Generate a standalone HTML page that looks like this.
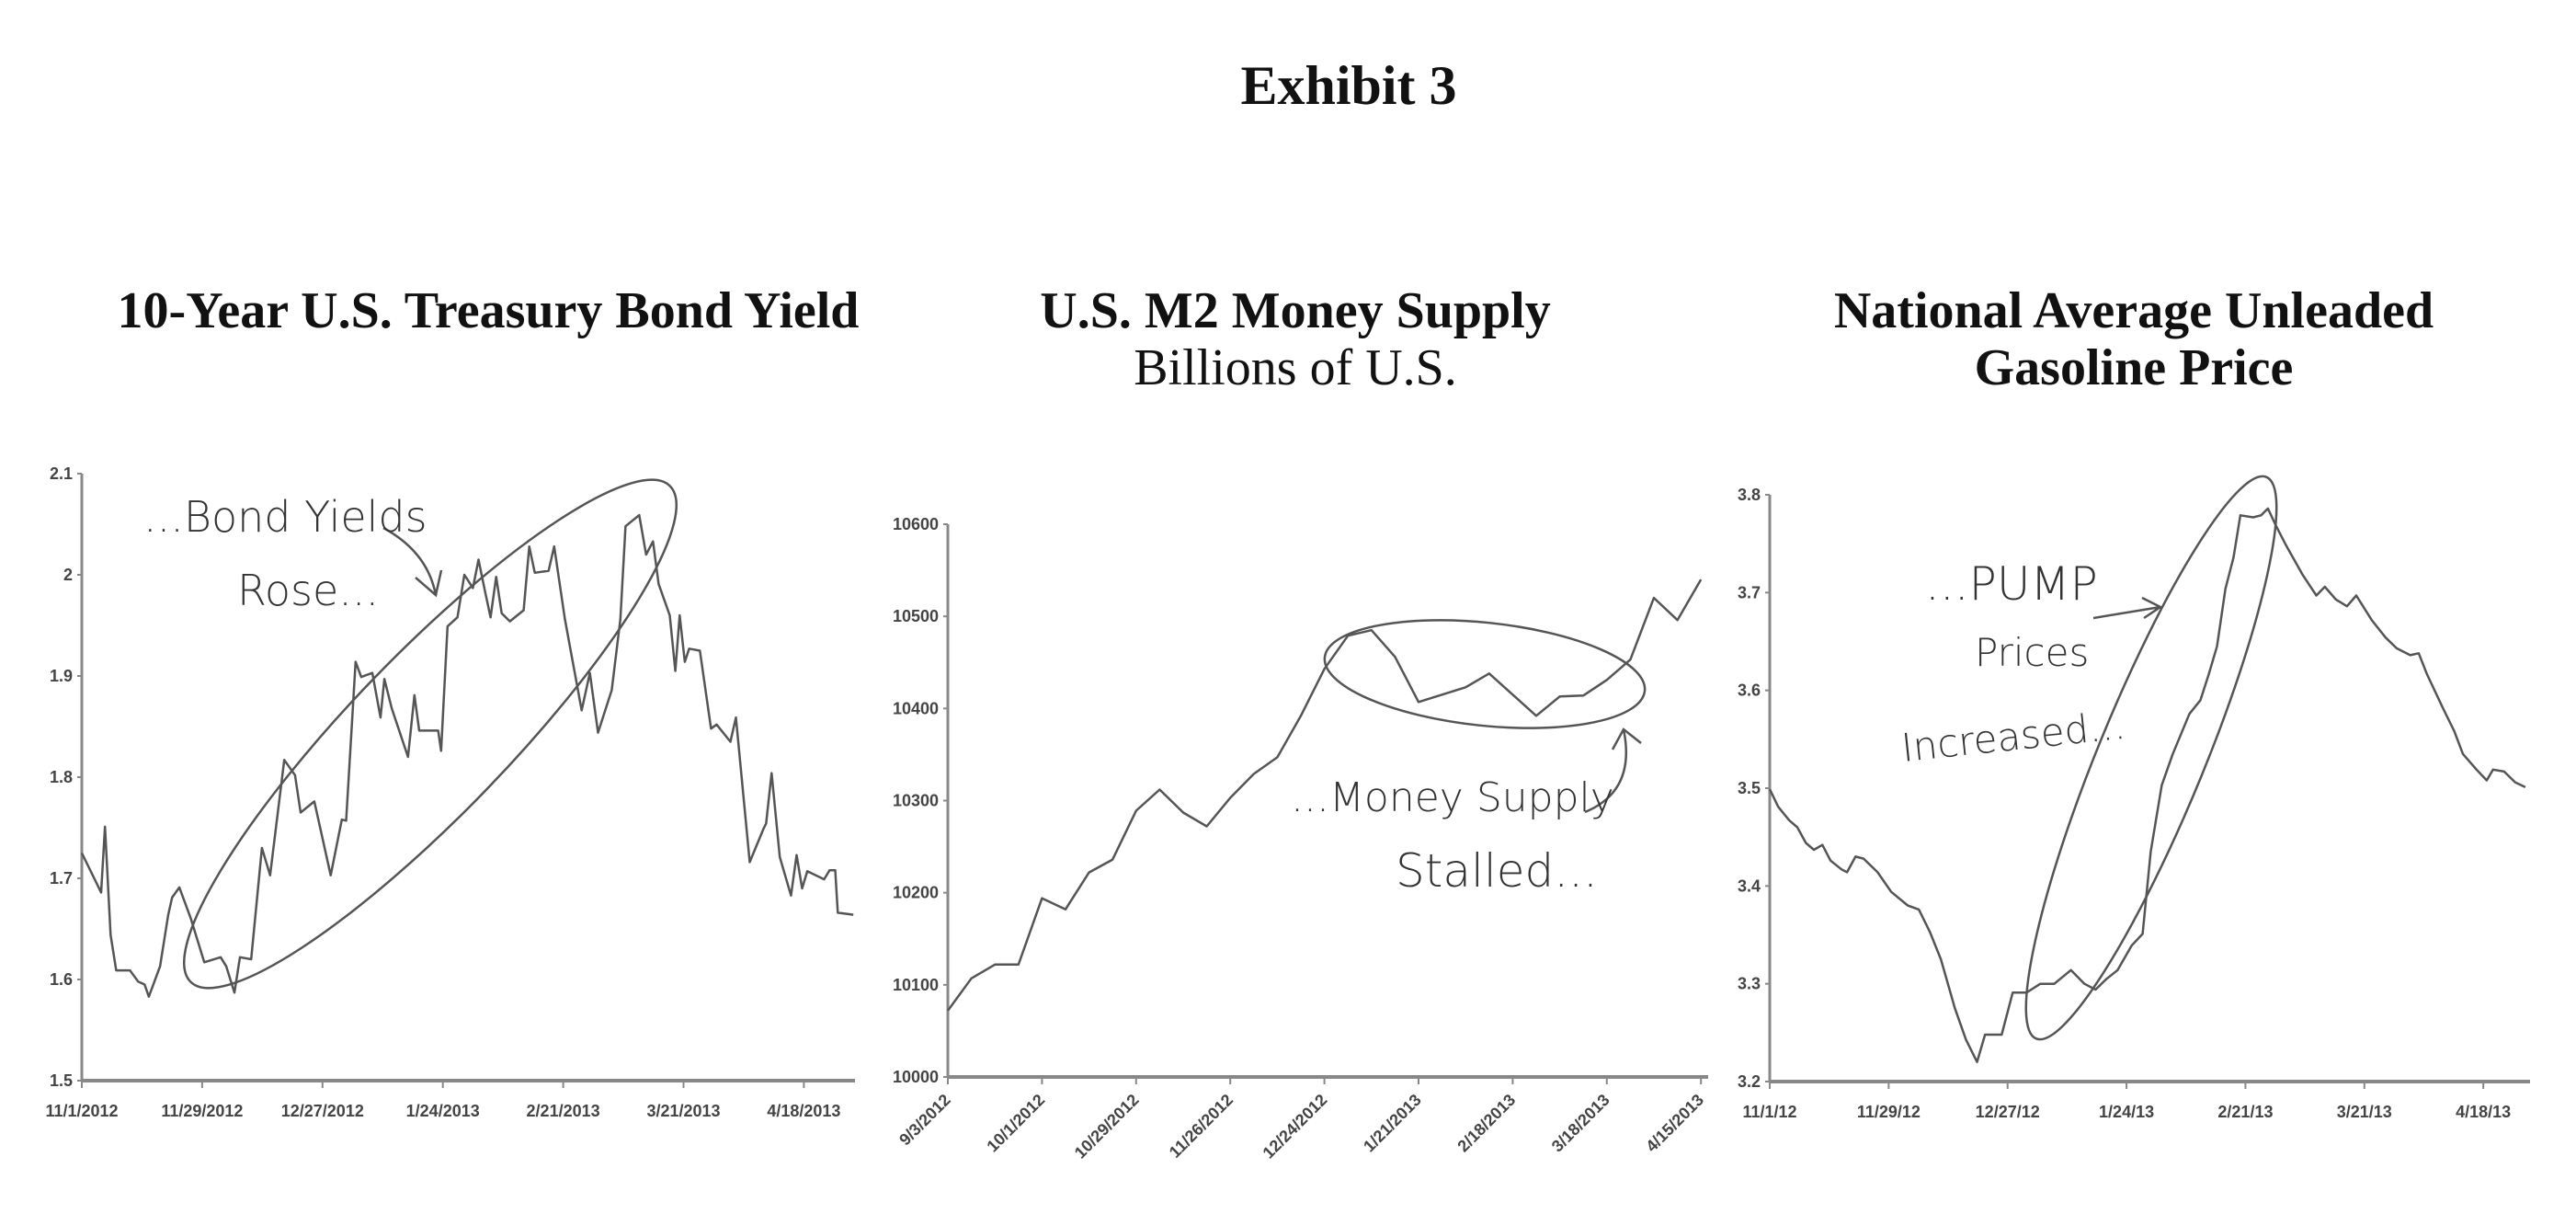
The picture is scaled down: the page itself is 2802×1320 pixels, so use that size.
<!DOCTYPE html>
<html><head><meta charset="utf-8">
<style>
html,body{margin:0;padding:0;background:#fff;}
svg{display:block;}
.ttl{font-family:"Liberation Serif",serif;fill:#111;}
.tick{font-family:"Liberation Sans",sans-serif;font-weight:bold;font-size:18px;fill:#444;}
.hand{font-family:"DejaVu Sans","Liberation Sans",sans-serif;font-weight:200;fill:#333;}
</style></head>
<body>
<svg id="root" width="2802" height="1320" viewBox="0 0 2802 1320" xmlns="http://www.w3.org/2000/svg">
<text class="ttl" x="1467" y="113" font-size="60" font-weight="bold" text-anchor="middle">Exhibit 3</text>
<text class="ttl" x="531" y="356" font-size="56" font-weight="bold" text-anchor="middle">10-Year U.S. Treasury Bond Yield</text>
<text class="ttl" x="1409" y="356" font-size="56" font-weight="bold" text-anchor="middle">U.S. M2 Money Supply</text>
<text class="ttl" x="1409" y="418" font-size="56" text-anchor="middle">Billions of U.S.</text>
<text class="ttl" x="2321" y="356" font-size="56" font-weight="bold" text-anchor="middle">National Average Unleaded</text>
<text class="ttl" x="2321" y="418" font-size="56" font-weight="bold" text-anchor="middle">Gasoline Price</text>

<g fill="none" stroke="#555" stroke-width="2.5">
<ellipse cx="468" cy="798" rx="375" ry="86" transform="rotate(-46 468 798)"/>
<path d="M417 574 Q465 600 474 647 M452 628 L474 647 L480 620"/>
</g>
<text class="hand" x="156" y="578" font-size="46">...Bond Yields</text>
<text class="hand" x="258" y="658" font-size="46">Rose...</text>

<g fill="none" stroke="#555" stroke-width="2.5">
<ellipse cx="1615" cy="733" rx="175" ry="56" transform="rotate(6 1615 733)"/>
<path d="M1724 883 Q1780 860 1766 793 M1754 815 L1766 793 L1785 808"/>
</g>
<text class="hand" x="1404" y="882" font-size="44">...Money Supply</text>
<text class="hand" x="1518" y="964" font-size="50">Stalled...</text>

<g fill="none" stroke="#555" stroke-width="2.5">
<ellipse cx="2340" cy="824" rx="330" ry="58" transform="rotate(-67.7 2340 824)"/>
<path d="M2277 672 L2350 660 M2330 650 L2350 660 L2332 672"/>
</g>
<text class="hand" x="2094" y="652" font-size="50">...PUMP</text>
<text class="hand" x="2148" y="724" font-size="42">Prices</text>
<text class="hand" x="2070" y="828" font-size="42" transform="rotate(-6 2070 828)">Increased...</text>
</svg>
<script>
const bondDays = [0,4.5,5.4,6.7,8,11.2,13.1,14.6,15.6,18.2,20.1,21,22.7,25.3,28.5,32.3,33.6,35.5,36.8,39.4,41.9,43.8,47.1,49.6,50.9,54.1,57.9,60.5,61.5,63.7,65,67.6,69.5,70.4,72.1,75.9,77.4,78.5,82.9,83.6,85.1,87.4,89,91,92.3,93.8,95.1,96.4,97.7,99.6,102.8,104.1,105.4,108.6,109.9,112.4,116.3,118.2,120.1,123.3,125.3,126.5,129.7,131.3,132.9,134.2,136.8,138.1,139.1,140.3,141.3,143.8,146.4,147.7,150.9,152.2,155.4,158.6,159.2,160.5,162.4,165,166.3,167.6,168.8,172.7,174,175.3,175.9,179.5];
const bondYield = [1.725,1.686,1.751,1.644,1.609,1.609,1.598,1.595,1.583,1.613,1.664,1.681,1.691,1.661,1.617,1.622,1.613,1.587,1.622,1.620,1.730,1.703,1.817,1.802,1.765,1.776,1.703,1.758,1.757,1.914,1.899,1.903,1.859,1.897,1.868,1.820,1.881,1.846,1.846,1.826,1.949,1.958,2.000,1.987,2.015,1.984,1.958,1.998,1.962,1.954,1.965,2.028,2.002,2.004,2.028,1.956,1.866,1.903,1.844,1.886,1.956,2.048,2.059,2.020,2.033,1.991,1.960,1.905,1.960,1.914,1.927,1.925,1.848,1.852,1.835,1.859,1.716,1.749,1.754,1.804,1.721,1.683,1.723,1.690,1.707,1.699,1.708,1.708,1.666,1.664];
const bondTickLabels = ["11/1/2012","11/29/2012","12/27/2012","1/24/2013","2/21/2013","3/21/2013","4/18/2013"];
const bondYTicks = [1.5,1.6,1.7,1.8,1.9,2,2.1];

const m2Weeks = [0,1,2,3,4,5,6,7,8,9,10,11,12,13,14,15,16,17,18,19,20,21,22,23,24,25,26,27,28,29,30,31,32];
const m2Values = [10072,10107,10122,10122,10194,10182,10222,10236,10289,10312,10287,10272,10303,10329,10347,10392,10443,10479,10485,10456,10407,10415,10423,10438,10415,10392,10413,10414,10431,10453,10520,10496,10540];
const m2TickLabels = ["9/3/2012","10/1/2012","10/29/2012","11/26/2012","12/24/2012","1/21/2013","2/18/2013","3/18/2013","4/15/2013"];
const m2YTicks = [10000,10100,10200,10300,10400,10500,10600];

const gasDays = [0,2,4.6,6.5,8.5,10.4,12.4,14.3,16.9,18.2,20.2,22.1,25.4,28.6,32.5,35.1,37.7,40.3,43.6,46.2,48.8,50.7,52,54.6,57.2,60.5,63.7,67,70.9,74.1,76.7,79.3,81.9,85.2,87.8,89.7,92.3,94.9,98.8,101.4,103.4,105.3,107.3,109.2,110.8,113.8,115.7,117.3,119,121.6,125.5,128.7,130.7,133.3,135.9,138.1,141.7,145,147.6,150.8,152.8,154.7,158.6,161.2,163.2,166.4,168.8,170.3,172.9,175.5,177.9];
const gasPrice = [3.499,3.481,3.467,3.460,3.444,3.437,3.442,3.426,3.417,3.414,3.430,3.428,3.414,3.394,3.380,3.376,3.353,3.325,3.275,3.243,3.220,3.248,3.248,3.248,3.291,3.291,3.300,3.300,3.314,3.300,3.294,3.305,3.314,3.339,3.351,3.435,3.503,3.535,3.576,3.590,3.617,3.645,3.704,3.736,3.779,3.777,3.779,3.786,3.770,3.748,3.718,3.697,3.706,3.693,3.686,3.697,3.672,3.654,3.643,3.636,3.638,3.617,3.581,3.558,3.535,3.519,3.508,3.519,3.517,3.506,3.501];
const gasTickLabels = ["11/1/12","11/29/12","12/27/12","1/24/13","2/21/13","3/21/13","4/18/13"];
const gasYTicks = [3.2,3.3,3.4,3.5,3.6,3.7,3.8];

const NS = "http://www.w3.org/2000/svg";
const root = document.getElementById('root');
function mk(tag, attrs, parent){ const e=document.createElementNS(NS,tag); for(const k in attrs) e.setAttribute(k,attrs[k]); (parent||root).appendChild(e); return e; }

function drawChart(c){
  const g = mk('g',{});
  
  
  const sx = v => c.x0 + (v - c.xmin) * c.pxPerUnit;
  const sy = v => c.yBottom - (v - c.ymin) / (c.ymax - c.ymin) * (c.yBottom - c.yTop);
  const ya = mk('line',{x1:c.x0,y1:c.yTop,x2:c.x0,y2:c.yBottom,stroke:'#888','stroke-width':3},g);
  
  
  const xa = mk('line',{x1:c.x0,y1:c.yBottom,x2:c.xEnd,y2:c.yBottom,stroke:'#888','stroke-width':4},g);
  
  
  c.yTicks.forEach(t=>{
    const y = sy(t);
    mk('line',{x1:c.x0-5,y1:y,x2:c.x0,y2:y,stroke:'#888','stroke-width':2},g);
    const tx = mk('text',{x:c.x0-10,y:y+6,'text-anchor':'end','class':'tick'},g);
    tx.textContent = String(t);
    
    
  });
  c.xLabels.forEach((lab,i)=>{
    const x = sx(c.xmin + i*c.xStep);
    mk('line',{x1:x,y1:c.yBottom,x2:x,y2:c.yBottom+8,stroke:'#888','stroke-width':2},g);
    let tx;
    if(c.rotate){
      tx = mk('text',{x:x+4,y:c.yBottom+26,'text-anchor':'end','class':'tick',transform:`rotate(-45 ${x+4} ${c.yBottom+26})`},g);
    } else {
      tx = mk('text',{x:x,y:c.yBottom+39,'text-anchor':'middle','class':'tick'},g);
    }
    tx.textContent = lab;
    
    
  });
  const pts = c.xs.map((d,i)=> sx(d).toFixed(1)+','+sy(c.ys[i]).toFixed(1)).join(' ');
  const pl = mk('polyline',{points:pts,fill:'none',stroke:'#555','stroke-width':2.5,'stroke-linejoin':'round'},g);
  
  
}

drawChart({name:'bond-yield-chart',x0:89,xEnd:930,yTop:515,yBottom:1175,xmin:0,pxPerUnit:4.675,xStep:28,ymin:1.5,ymax:2.1,
  yTicks:bondYTicks,xLabels:bondTickLabels,xs:bondDays,ys:bondYield,rotate:false});
drawChart({name:'m2-money-supply-chart',x0:1031,xEnd:1858,yTop:570,yBottom:1171,xmin:0,pxPerUnit:25.6,xStep:4,ymin:10000,ymax:10600,
  yTicks:m2YTicks,xLabels:m2TickLabels,xs:m2Weeks,ys:m2Values,rotate:true});
drawChart({name:'gasoline-price-chart',x0:1925,xEnd:2752,yTop:538,yBottom:1176,xmin:0,pxPerUnit:4.62,xStep:28,ymin:3.2,ymax:3.8,
  yTicks:gasYTicks,xLabels:gasTickLabels,xs:gasDays,ys:gasPrice,rotate:false});
</script>
</body></html>
